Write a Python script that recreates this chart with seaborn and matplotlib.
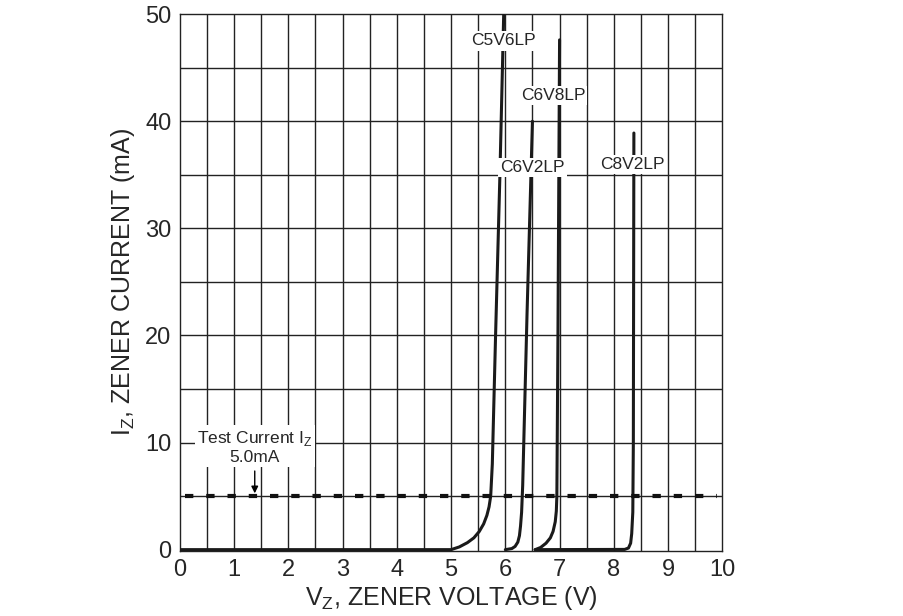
import matplotlib
matplotlib.use("Agg")
import matplotlib.pyplot as plt
import seaborn as sns
import pandas as pd

sns.set_style("white")
plt.rcParams["font.family"] = ["Liberation Sans", "DejaVu Sans"]

# curve points (V, mA)
c5v6_v = [0.0, 5.0, 5.15, 5.3, 5.42, 5.52, 5.6, 5.66, 5.7, 5.73, 5.76, 5.82, 5.9, 5.97]
c5v6_i = [0.0, 0.0, 0.25, 0.65, 1.1, 1.7, 2.4, 3.2, 4.0, 5.0, 8.0, 20.0, 35.0, 50.0]
c6v2_v = [6.0, 6.12, 6.18, 6.23, 6.26, 6.28, 6.3, 6.32, 6.4, 6.5]
c6v2_i = [0.0, 0.1, 0.3, 0.7, 1.3, 2.2, 3.5, 6.0, 22.0, 40.0]
c6v8_v = [6.55, 6.65, 6.75, 6.83, 6.88, 6.92, 6.94, 6.95, 6.97, 7.0]
c6v8_i = [0.0, 0.2, 0.6, 1.1, 1.7, 2.6, 3.6, 5.0, 20.0, 47.6]
c8v2_v = [6.55, 8.2, 8.27, 8.31, 8.33, 8.35, 8.36, 8.37]
c8v2_i = [0.0, 0.02, 0.15, 0.6, 1.5, 3.5, 10.0, 38.9]
names = ["C5V6LP", "C6V2LP", "C6V8LP", "C8V2LP"]
test_current = 5.0

frames = []
for n, v, i in zip(names, [c5v6_v, c6v2_v, c6v8_v, c8v2_v], [c5v6_i, c6v2_i, c6v8_i, c8v2_i]):
    frames.append(pd.DataFrame({"V": v, "I": i, "part": n}))
df = pd.concat(frames)

fig = plt.figure(figsize=(9.04, 6.16), dpi=100)
ax = fig.add_axes([0.199, 0.106, 0.600, 0.871])

for x in [k * 0.5 for k in range(1, 20)]:
    ax.axvline(x, color="#222222", lw=1.0, zorder=1)
for y in range(5, 50, 5):
    ax.axhline(y, color="#222222", lw=1.0, zorder=1)

sns.lineplot(data=df, x="V", y="I", units="part", estimator=None, sort=False,
             color="#1a1a1a", lw=2.2, ax=ax, zorder=3)
ax.axhline(test_current, xmin=0.01, xmax=0.99, color="#111111", lw=3.0,
           dashes=(2.0, 3.1), zorder=4)

labels_pos = [(5.97, 47.5), (6.5, 35.7), (6.88, 42.4), (8.35, 36.0)]
for n, (x, y) in zip(names, labels_pos):
    ax.text(x, y, n, ha="center", va="center", fontsize=12.5,
            bbox=dict(facecolor="white", edgecolor="none", pad=1.5), zorder=5)

ax.annotate("", xy=(1.38, test_current), xytext=(1.38, 7.6),
            arrowprops=dict(arrowstyle="-|>", color="black", lw=1.0), zorder=5)
ax.text(1.38, 9.6, "Test Current I$_\\mathregular{Z}$\n5.0mA", ha="center", va="center",
        fontsize=12.5, linespacing=1.2,
        bbox=dict(facecolor="white", edgecolor="none", pad=1.5), zorder=5)

ax.set_xlim(0, 10)
ax.set_ylim(-0.1, 50)
ax.set_xticks(range(0, 11))
ax.set_yticks(range(0, 51, 10))
ax.tick_params(labelsize=17, length=0, pad=6)
for s in ax.spines.values():
    s.set_color("#222222")
    s.set_linewidth(1.0)
ax.set_xlabel("V$_\\mathregular{Z}$, ZENER VOLTAGE (V)", fontsize=18, labelpad=2)
ax.set_ylabel("I$_\\mathregular{Z}$, ZENER CURRENT (mA)", fontsize=18, labelpad=6)

fig.savefig("out.png", dpi=100)
